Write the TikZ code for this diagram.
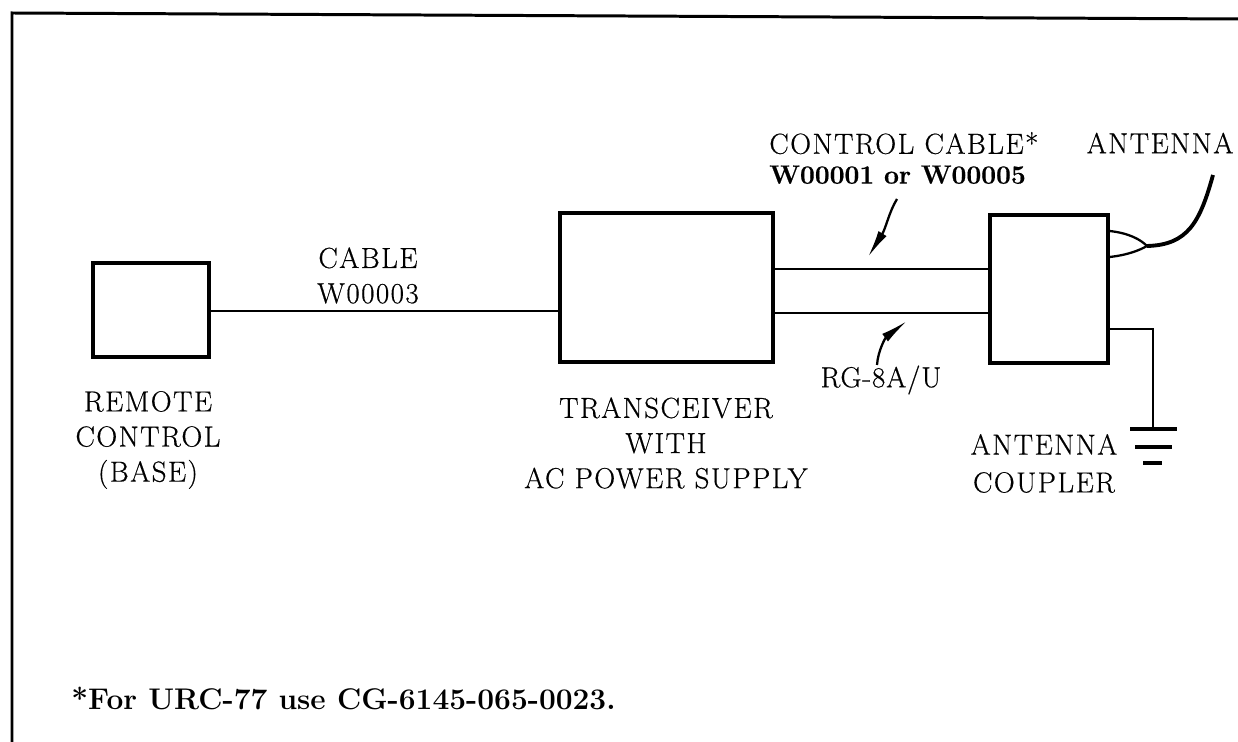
\documentclass[tikz,border=0pt]{standalone}
\usepackage{fontspec}
\setmainfont{Latin Modern Roman}
\usepackage{tikz}
\usetikzlibrary{arrows.meta}

\begin{document}
\begin{tikzpicture}[x=0.02cm, y=-0.02cm, line width=1.6pt,
        unit/.style={draw, rectangle, inner sep=0pt, line width=1.8pt},
        lbl/.style={align=center, inner sep=0pt, font=\fontsize{16.5}{20}\selectfont\addfontfeature{LetterSpace=5, FakeBold=0.5}},
        callout/.style={line width=1.3pt, -{Latex[length=0.55cm, width=0.19cm]}}]
        \useasboundingbox (0,0) rectangle (1238,742);

        % Frame
        \draw[line width=1.7pt] (12,742) -- (12,13) -- (1238,19);

        % Units
        \node[unit, minimum width=2.32cm, minimum height=1.88cm] (remote) at (151,310) {};
        \node[unit, minimum width=4.26cm, minimum height=2.98cm] (xcvr) at (666.5,287.5) {};
        \node[unit, minimum width=2.36cm, minimum height=2.96cm] (cplr) at (1049,289) {};

        % Cables
        \coordinate (w3) at (0,311);
        \coordinate (cc) at (0,269);
        \coordinate (rg) at (0,313);
        \draw (remote.east |- w3) -- (xcvr.west |- w3);
        \draw (xcvr.east |- cc) -- (cplr.west |- cc);
        \draw (xcvr.east |- rg) -- (cplr.west |- rg);

        % Antenna
        \coordinate (ajn) at (1147,246);
        \coordinate (atop) at (1213,175);
        \draw[line width=1.3pt] (cplr.east |- 0,231) .. controls (1128,233) and (1140,239) .. (ajn);
        \draw[line width=1.3pt] (cplr.east |- 0,257) .. controls (1128,255) and (1140,250) .. (ajn);
        \draw[line width=2.2pt] (ajn) .. controls (1188,245) and (1200,222) .. (atop);

        % Ground
        \coordinate (gnd) at (1153,429);
        \draw (cplr.east |- 0,329) -- (gnd |- 0,329) -- (gnd);
        \draw[line width=2.2pt] (gnd) ++(-23,0) -- ++(47,0);
        \draw[line width=2.2pt] (gnd) ++(-18,18) -- ++(37,0);
        \draw[line width=2.2pt] (gnd) ++(-10,34) -- ++(19,0);

        % Callouts
        \coordinate (cctail) at (897,199);
        \coordinate (cctip) at (868,257);
        \coordinate (rgtail) at (877,365);
        \coordinate (rgtip) at (907,321);
        \draw[callout] (cctail) .. controls (889,212) and (886,228) .. (cctip);
        \draw[callout] (rgtail) .. controls (878,350) and (886,337) .. (rgtip);

        % Labels
        \node[lbl] (remotelbl) at (148,440) {REMOTE\\CONTROL\\(BASE)};
        \node[lbl] (w3lbl) at (368,275.5) {CABLE\\W00003};
        \node[lbl] (xcvrlbl) at (666,443) {TRANSCEIVER\\WITH\\AC POWER SUPPLY};
        \node[lbl, font=\fontsize{16.5}{17}\selectfont\addfontfeature{LetterSpace=3, FakeBold=0.5}] (rglbl) at (881,380) {RG-8A/U};
        \node[lbl, font=\fontsize{16.5}{21.5}\selectfont\addfontfeature{LetterSpace=5, FakeBold=0.5}] (cplrlbl) at (1044,463.5) {ANTENNA\\COUPLER};
        \node[lbl, anchor=west, align=left, font=\fontsize{16.5}{17}\selectfont\addfontfeature{LetterSpace=5, FakeBold=0.5}] (cclbl) at (768,158) {CONTROL CABLE*\\{\fontsize{15}{17}\selectfont\bfseries\addfontfeature{LetterSpace=0}W00001 or W00005}};
        \node[lbl] (antlbl) at (1160,143) {ANTENNA};

        % Note
        \node[anchor=west, inner sep=0pt, font=\fontsize{17}{20}\selectfont\bfseries] (note) at (70,698) {*For URC-77 use CG-6145-065-0023.};
\end{tikzpicture}
\end{document}
